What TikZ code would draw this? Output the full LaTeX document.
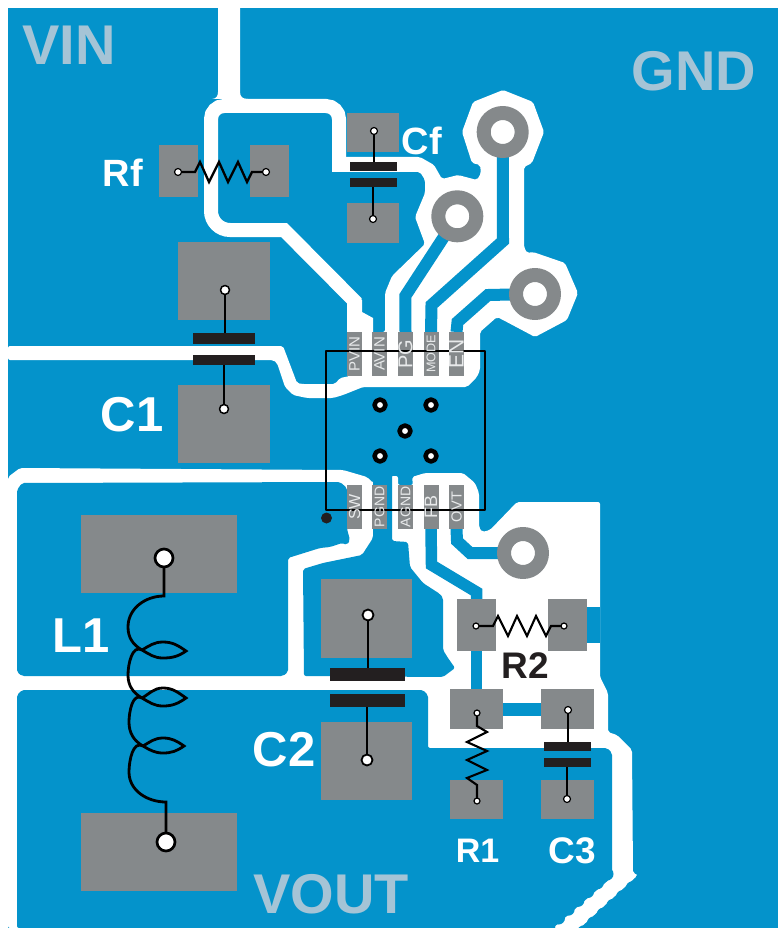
\documentclass[tikz,border=0pt]{standalone}
\usepackage{fontspec}
\usepackage{graphicx}
\setmainfont{Liberation Sans}
\usetikzlibrary{backgrounds}
\definecolor{pcbblue}{HTML}{0493CB}
\definecolor{padgray}{HTML}{85898B}
\definecolor{ink}{HTML}{231F20}
\definecolor{netgray}{HTML}{A5C4D6}
\definecolor{pintext}{HTML}{E8EAEB}
\newcommand{\fsz}[1]{\fontsize{#1}{#1}\selectfont}
\begin{document}
\begin{tikzpicture}[x=1pt, y=-1pt, line join=round, inner sep=0pt, outer sep=0pt,
	gapline/.style={draw=white, line width=14pt, line join=miter},
	gapfill/.style={fill=white, rounded corners=2pt},
	copper/.style={fill=pcbblue, rounded corners=2pt},
	trace/.style={draw=pcbblue, line width=12pt, line join=miter},
	pad/.style={fill=padgray},
	pinpad/.style={fill=padgray, minimum width=15pt, minimum height=44pt},
	pinlabel/.style={text=pintext},
	bar/.style={fill=ink},
	lead/.style={draw=black, line width=2.1pt, line join=miter},
	via/.style={circle, draw=padgray, fill=white, line width=14pt, minimum size=38pt},
	thermal/.style={circle, draw=black, fill=white, line width=4.5pt, minimum size=11pt},
	term/.style={circle, draw=black, fill=white, line width=1.2pt, minimum size=7pt},
	netlabel/.style={text=netgray, font=\fsz{56}\bfseries},
	partlabel/.style={text=white, font=\fsz{49}\bfseries}]
	\useasboundingbox (0,0) rectangle (778,928);
	\begin{scope}[on background layer]
		\fill[pcbblue] (8,8) rectangle (778,928);
		% clearances of the top half
		\fill[white] (218,0)--(240,0)--(240,92) .. controls (240,97) and (243,99) .. (248,99)--(212,99) .. controls (216,99) and (218,96) .. (218,92)--cycle;
		\draw[gapline, rounded corners=13pt] (339,172)--(339,106)--(211,106)[rounded corners=19pt]--(211,230)[sharp corners]--(284,230)--(354.5,301)--(354.5,316);
		\fill[white] (347,300)--(347,340)--(373,340)--(373,318)--(362,312)--(362,300)--cycle;
		\fill[gapfill] (8,346)--(283,346)--(297,383)--(302,384)--(335,384)--(340,378)--(350,376)--(347,376)--(347,332)--(385,332)--(385,293)--(392,276)--(425,244)--(415,217)--(425,193)--(425,180)--(420,172)--(334,172)--(334,157)--(420,157)--(434,165)--(442,179)--(458,175)--(477,180)--(481,173)--(480,165)--(472,163)--(462,132)--(473,102)--(503,90)--(533,102)--(544,132)--(532,163)--(524,167)--(524,247)--(527,253)--(533,252)--(565,263)--(578,293)--(567,320)--(535,337)--(503,320)--(497,317)--(480,332)--(480,370)--(477,377)--(467,387)--(363,387)--(343,395)--(333,398)--(307,398)--(293,395)--(285,387)--(277,363)--(273,360)--(8,360)--cycle;
		% lower half is white, the copper blocks go on top
		\fill[gapfill] (8,477)--(20,468)--(343,470)--(367,477)--(373,483)--(392,476)--(398,476)--(398,485)--(413,485)--(412,477)--(425,473)--(463,473)--(475,483)--(479,493)--(479,527)--(482,532)--(490,530)--(517,502)--(600,502)--(600,677)--(608,693)--(608,732)--(617,735)--(632,750)--(633,873)--(638,875)--(580,928)--(8,928)--cycle;
		\fill[copper] (17,490)--(22,483)--(340,482)--(347,488)--(347,529)--(350,540)--(347,545)--(342,543)--(330,547)--(320,548)--(288,558)--(288,672)--(283,676)--(22,676)--(17,672)--cycle;
		\fill[copper] (373,470)--(392,470)--(392,541)--(408,542)--(410,567)--(423,583)--(440,594)--(443,598)--(443,650)--(448,658)--(455,668)--(443,677)--(304,676)--(303,569)--(323,563)--(362,555)--(373,538)--cycle;
		\fill[copper] (22,690)--(423,690)--(428,695)--(428,748)--(607,748)--(612,753)--(612,877)--(553,928)--(17,928)--(17,695)--cycle;
		\foreach \i in {0,...,6} {
			\fill[pcbblue] ({642-\i*9.7},{879+\i*8.8}) circle (6.5pt);
			\fill[pcbblue] ({607-\i*9.7},{874+\i*8.8}) circle (6.5pt);
		}
	\end{scope}
	% vias and pins
	\node[via] (viaa) at (502.7,132) {};
	\node[via] (viab) at (457.3,216.3) {};
	\node[via] (viac) at (535,294) {};
	\node[via] (viad) at (523,553) {};
	\foreach \n/\p/\q in {a/380/405,b/431/405,c/405/431,d/380/456,e/431/456}
		\node[thermal] (th\n) at (\p,\q) {};
	\foreach \n/\p/\q in {pvin/354.5/354,avin/379.5/354,pg/405.5/354,mode/431/354,en/456.5/354,sw/354.5/507,pgnd/379.5/507,agnd/405.5/507,fb/431/507,ovt/456.5/507}
		\node[pinpad] (\n) at (\p,\q) {};
	% pads
	\node[pad, minimum width=39pt, minimum height=52pt] (rfl) at (178.5,171) {};
	\node[pad, minimum width=39pt, minimum height=52pt] (rfr) at (269.5,171) {};
	\node[pad, minimum width=52pt, minimum height=39pt] (cft) at (373,132.5) {};
	\node[pad, minimum width=52pt, minimum height=40pt] (cfb) at (373,223) {};
	\node[pad, minimum width=92pt, minimum height=78pt] (cat) at (224,281) {};
	\node[pad, minimum width=92pt, minimum height=78pt] (cab) at (224,424) {};
	\node[pad, minimum width=91pt, minimum height=79pt] (cbt) at (366.5,618.5) {};
	\node[pad, minimum width=91pt, minimum height=78pt] (cbb) at (366.5,761) {};
	\node[pad, minimum width=156pt, minimum height=78pt] (lat) at (159,554) {};
	\node[pad, minimum width=156pt, minimum height=78pt] (lab) at (159,852) {};
	\node[pad, minimum width=39pt, minimum height=52pt] (rbl) at (476.5,625) {};
	\node[pad, minimum width=39pt, minimum height=52pt] (rbr) at (567.5,625) {};
	\node[pad, minimum width=53pt, minimum height=40pt] (rat) at (476.5,709) {};
	\node[pad, minimum width=53pt, minimum height=39pt] (rab) at (476.5,799.5) {};
	\node[pad, minimum width=53pt, minimum height=40pt] (cct) at (567.5,709) {};
	\node[pad, minimum width=53pt, minimum height=39pt] (ccb) at (567.5,799.5) {};
	\begin{scope}[on background layer]
		% copper traces under the pads
		\draw[trace] (pg.north)--(405.3,296)--(viab);
		\draw[trace] (mode.north)--(431.5,305)--(503,241)--(viaa);
		\draw[trace] (en.north)--(457.5,322)--(488,295)--(viac);
		\draw[trace, line width=11.5pt] (fb.south)--(431.5,565)--(476.5,592)--(rbl.north);
		\draw[trace] (ovt.south)--(457,541)--(470,553)--(viad);
		\draw[trace, line width=11.5pt] (rbl.south)--(rat.north);
		\draw[trace, line width=13pt] (rat.east)--(cct.west);
		\fill[pcbblue] (587,607) rectangle (600,643);
	\end{scope}
	% capacitors
	\node[bar, minimum width=47pt, minimum height=9pt] (cfm) at (373.5,166.5) {};
	\node[bar, minimum width=47pt, minimum height=9pt] (cfn) at (373.5,182.5) {};
	\node[bar, minimum width=62pt, minimum height=11pt] (cam) at (224,338.5) {};
	\node[bar, minimum width=62pt, minimum height=10pt] (can) at (224,360) {};
	\node[bar, minimum width=75pt, minimum height=13pt] (cbm) at (367.5,674.5) {};
	\node[bar, minimum width=75pt, minimum height=13pt] (cbn) at (367.5,700.5) {};
	\node[bar, minimum width=47pt, minimum height=9pt] (ccm) at (567.5,746.5) {};
	\node[bar, minimum width=47pt, minimum height=9pt] (ccn) at (567.5,762.5) {};
	\node[term] (cfa) at (374,131) {};
	\node[term] (cfc) at (373,219) {};
	\node[term, minimum size=9pt, line width=1.5pt] (caa) at (225,290) {};
	\node[term, minimum size=9pt, line width=1.5pt] (cac) at (224,409) {};
	\node[term, minimum size=11pt, line width=1.8pt] (cba) at (368,615) {};
	\node[term, minimum size=11pt, line width=1.8pt] (cbc) at (367,760) {};
	\node[term] (cca) at (568,710) {};
	\node[term] (ccc) at (567,799) {};
	\draw[lead] (cfa)--(cfa|-cfm.north) (cfc|-cfn.south)--(cfc);
	\draw[lead] (caa)--(caa|-cam.north) (cac|-can.south)--(cac);
	\draw[lead] (cba)--(cba|-cbm.north) (cbc|-cbn.south)--(cbc);
	\draw[lead] (cca)--(cca|-ccm.north) (ccc|-ccn.south)--(ccc);
	% resistors
	\node[term] (rfa) at (178,172) {};
	\node[term] (rfc) at (266,172) {};
	\node[term, minimum size=6pt] (rba) at (476,626) {};
	\node[term, minimum size=6pt] (rbc) at (564,626) {};
	\node[term, minimum size=6pt] (raa) at (477,713) {};
	\node[term, minimum size=6pt] (rac) at (477,801) {};
	\draw[lead, line width=2.3pt] (rfa)--(195,172)--(200,162)--(209,182)--(219,162)--(228,182)--(238,162)--(247,182)--(252,172)--(rfc);
	\draw[lead] (rba)--(493,626)--(498,616)--(508,636)--(517,616)--(527,636)--(536,616)--(546,636)--(551,626)--(rbc);
	\draw[lead] (raa)--(477,726)--(487,732)--(467,742)--(487,751)--(467,760)--(487,770)--(467,778)--(477,785)--(rac);
	% inductor
	\node[term, minimum size=18pt, line width=2.7pt] (laa) at (164,558) {};
	\node[term, minimum size=18pt, line width=2.7pt] (lac) at (166,842) {};
	\draw[lead, line width=2.8pt] (laa)--(164,596) to[out=180,in=90] (128,627) to[out=-90,in=150] (142,650) to[out=30,in=180] (163,642) to[out=0,in=145] (186,651) to[out=-145,in=0] (163,658) to[out=180,in=-30] (142,650) to[out=150,in=90] (128,675) to[out=-90,in=150] (142,698) to[out=30,in=180] (163,688) to[out=0,in=145] (186,698) to[out=-145,in=0] (163,706) to[out=180,in=-30] (142,698) to[out=150,in=90] (129,722) to[out=-90,in=150] (143,746) to[out=30,in=180] (163,738) to[out=0,in=145] (184,746) to[out=-145,in=0] (163,753) to[out=180,in=-30] (143,746) to[out=150,in=90] (129,772) to[out=-90,in=180] (166,802)--(lac);
	% package outline
	\node[draw=black, line width=1.4pt, minimum width=159pt, minimum height=159pt] (ic) at (405.5,430.5) {};
	\node[circle, fill=ink, minimum size=11pt] (mark) at (326.5,518) {};
	% labels
	\foreach \n/\s/\t in {pvin/15/PVIN,avin/15/AVIN,pg/20/PG,mode/12.6/MODE,en/21/EN,sw/16/SW,pgnd/14/PGND,agnd/14/AGND,fb/18/FB,ovt/14.6/OVT}
		\node[pinlabel, font=\fsz{\s}] (\n text) at (\n) {\rotatebox{90}{\t}};
	\node[netlabel] (vin) at (69,45) {VIN};
	\node[netlabel] (gnd) at (694,71) {GND};
	\node[netlabel] (vout) at (331,894) {VOUT};
	\node[partlabel, font=\fsz{38}\bfseries] (rflab) at (123,173) {Rf};
	\node[partlabel, font=\fsz{38}\bfseries] (cflab) at (422,141) {Cf};
	\node[partlabel] (calab) at (132,415) {C1};
	\node[partlabel] (llab) at (81,636) {L1};
	\node[partlabel] (cblab) at (284,750) {C2};
	\node[partlabel, text=ink, font=\fsz{37}\bfseries] (rblab) at (525.5,666) {R2};
	\node[partlabel, font=\fsz{34}\bfseries] (ralab) at (477.5,851) {R1};
	\node[partlabel, font=\fsz{37}\bfseries] (cclab) at (572,851) {C3};
\end{tikzpicture}
\end{document}
